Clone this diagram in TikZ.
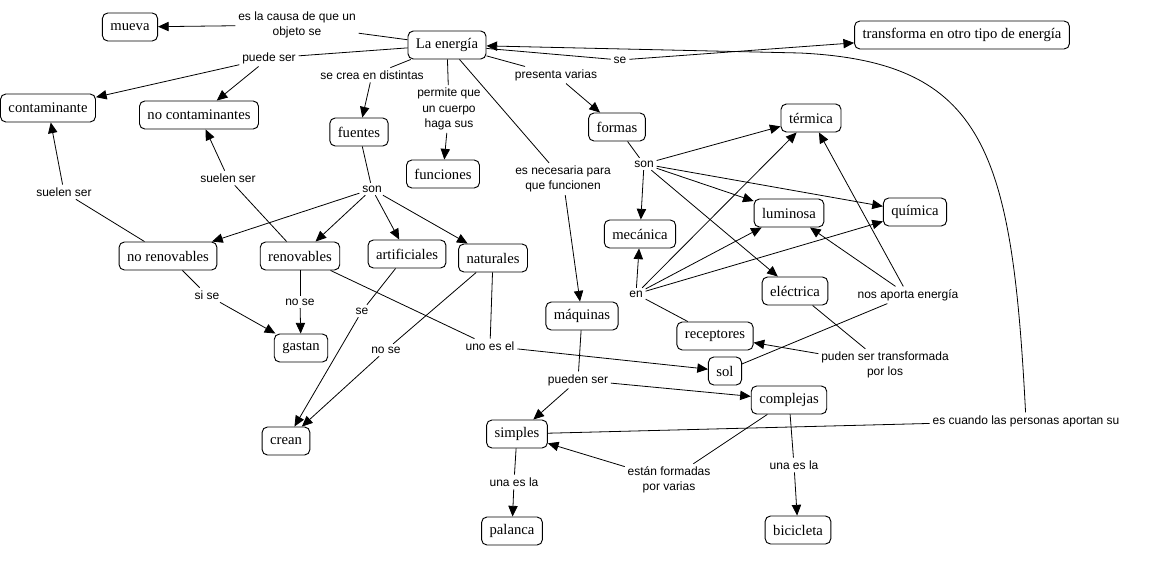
\documentclass[tikz,border=0pt]{standalone}
\usepackage{fontspec}
\setmainfont{Liberation Serif}
\setsansfont{Liberation Sans}
\usepackage{tikz}
\usetikzlibrary{arrows.meta}

\begin{document}
\begin{tikzpicture}[x=0.75pt,y=-0.75pt]
	\useasboundingbox (0,0) rectangle (1167,588);
	\begin{scope}[every node/.style={draw, rounded corners=4pt, line width=0.7pt, inner xsep=6pt, minimum height=21pt, font=\fontsize{11}{13}\selectfont}]
		\node (mueva) at (130,27) {mueva};
		\node (energia) at (447,45) {La energía};
		\node (transforma) at (962,35) {transforma en otro tipo de energía};
		\node (contam) at (48,108) {contaminante};
		\node (nocontam) at (199,115) {no contaminantes};
		\node (fuentes) at (359,132) {fuentes};
		\node (funciones) at (443,174) {funciones};
		\node (formas) at (617,127) {formas};
		\node (termica) at (811,118) {térmica};
		\node (quimica) at (915,212) {química};
		\node (luminosa) at (789,213) {luminosa};
		\node (mecanica) at (640,234) {mecánica};
		\node (norenov) at (168,256) {no renovables};
		\node (renov) at (300,256) {renovables};
		\node (artif) at (407,254) {artificiales};
		\node (natur) at (493,258) {naturales};
		\node (electrica) at (795,291) {eléctrica};
		\node (maquinas) at (582,316) {máquinas};
		\node (receptores) at (715,336) {receptores};
		\node (gastan) at (301,348) {gastan};
		\node (sol) at (725,371) {sol};
		\node (complejas) at (789,400) {complejas};
		\node (crean) at (286,441) {crean};
		\node (simples) at (517,434) {simples};
		\node (palanca) at (512,531) {palanca};
		\node (bicicleta) at (798,530) {bicicleta};
	\end{scope}

	\begin{scope}[every node/.style={inner sep=2pt, align=center, font=\sffamily\fontsize{9}{11.5}\selectfont}]
		\node (causa) at (297,25) {es la causa de que un\\objeto se};
		\node (puede) at (269,58) {puede ser};
		\node (crea) at (372,75) {se crea en distintas};
		\node (permite) at (449,109) {permite que\\un cuerpo\\haga sus};
		\node (presenta) at (556,75) {presenta varias};
		\node (se) at (620,60) {se};
		\node (necesaria) at (563,179) {es necesaria para\\que funcionen};
		\node (sonF) at (372,189) {son};
		\node (suelenA) at (64,192) {suelen ser};
		\node (suelenB) at (228,178) {suelen ser};
		\node (sise) at (207,295) {si se};
		\node (noseA) at (300,302) {no se};
		\node (seA) at (362,311) {se};
		\node (noseB) at (386,350) {no se};
		\node (uno) at (490,346) {uno es el};
		\node (pueden) at (578,380) {pueden ser};
		\node (unaA) at (514,482) {una es la};
		\node (formadas) at (669,480) {están formadas\\por varias};
		\node (unaB) at (794,465) {una es la};
		\node (cuando) at (1026,421) {es cuando las personas aportan su};
		\node (sonE) at (644,164) {son};
		\node (en) at (636,294) {en};
		\node (aporta) at (908,295) {nos aporta energía};
		\node (puden) at (885,365) {puden ser transformada\\por los};
	\end{scope}

	\begin{scope}[>={Triangle[length=8pt,width=7pt]},
	              line width=0.6pt,
	              every edge/.style={draw=black}]
		\path (energia) edge (causa);
		\path (causa) edge[->] (mueva);
		\path (energia) edge (puede);
		\path (puede) edge[->] (contam);
		\path (puede) edge[->] (nocontam);
		\path (energia) edge (crea);
		\path (crea) edge[->] (fuentes);
		\path (energia) edge (permite);
		\path (permite) edge[->] (funciones);
		\path (energia) edge (necesaria);
		\path (necesaria) edge[->] (maquinas);
		\path (energia) edge (presenta);
		\path (presenta) edge[->] (formas);
		\path (energia) edge (se);
		\path (se) edge[->] (transforma);
		\path (fuentes) edge (sonF);
		\path (sonF) edge[->] (norenov);
		\path (sonF) edge[->] (renov);
		\path (sonF) edge[->] (artif);
		\path (sonF) edge[->] (natur);
		\path (norenov) edge (suelenA);
		\path (suelenA) edge[->] (contam);
		\path (renov) edge (suelenB);
		\path (suelenB) edge[->] (nocontam);
		\path (norenov) edge (sise);
		\path (sise) edge[->] (gastan);
		\path (renov) edge (noseA);
		\path (noseA) edge[->] (gastan);
		\path (artif) edge (seA);
		\path (seA) edge[->] (crean);
		\path (natur) edge (noseB);
		\path (noseB) edge[->] (crean);
		\path (renov) edge (uno);
		\path (natur) edge (uno);
		\path (uno) edge[->] (sol);
		\path (maquinas) edge (pueden);
		\path (pueden) edge[->] (simples);
		\path (pueden) edge[->] (complejas);
		\path (simples) edge (unaA);
		\path (unaA) edge[->] (palanca);
		\path (complejas) edge (unaB);
		\path (unaB) edge[->] (bicicleta);
		\path (complejas) edge (formadas);
		\path (formadas) edge[->] (simples);
		\path (simples) edge (cuando);
		\draw[->] (cuando) .. controls (1012,150) and (985,62) .. (800,53) -- (energia);
		\path (formas) edge (sonE);
		\path (sonE) edge[->] (termica);
		\path (sonE) edge[->] (luminosa);
		\path (sonE) edge[->] (quimica);
		\path (sonE) edge[->] (mecanica);
		\path (sonE) edge[->] (electrica);
		\path (receptores) edge (en);
		\path (en) edge[->] (mecanica);
		\path (en) edge[->] (termica);
		\path (en) edge[->] (luminosa);
		\path (en) edge[->] (quimica);
		\path (sol) edge (aporta);
		\path (aporta) edge[->] (termica);
		\path (aporta) edge[->] (luminosa);
		\path (electrica) edge (puden);
		\path (puden) edge[->] (receptores);
	\end{scope}
\end{tikzpicture}
\end{document}
